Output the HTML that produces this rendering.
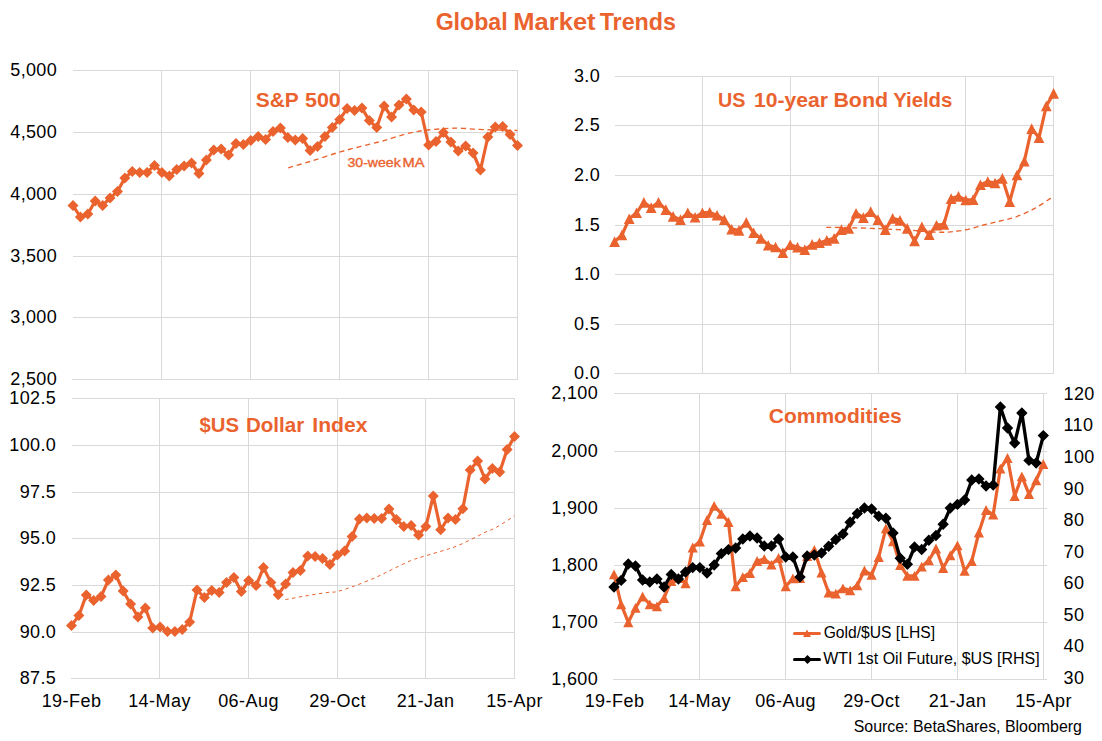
<!DOCTYPE html><html><head><meta charset="utf-8"><title>Global Market Trends</title>
<style>html,body{margin:0;padding:0;background:#fff;}svg{display:block;}text{font-family:"Liberation Sans", sans-serif;}</style></head><body>
<svg width="1102" height="741" viewBox="0 0 1102 741">
<rect width="1102" height="741" fill="#fff"/>
<line x1="73" y1="70.5" x2="518" y2="70.5" stroke="#D9D9D9" stroke-width="1"/>
<text x="57.1" y="76.4" font-size="18" text-anchor="end" font-weight="normal" fill="#000" letter-spacing="0.35">5,000</text>
<line x1="73" y1="132.5" x2="518" y2="132.5" stroke="#D9D9D9" stroke-width="1"/>
<text x="57.1" y="138.4" font-size="18" text-anchor="end" font-weight="normal" fill="#000" letter-spacing="0.35">4,500</text>
<line x1="73" y1="194.5" x2="518" y2="194.5" stroke="#D9D9D9" stroke-width="1"/>
<text x="57.1" y="200.4" font-size="18" text-anchor="end" font-weight="normal" fill="#000" letter-spacing="0.35">4,000</text>
<line x1="73" y1="256.5" x2="518" y2="256.5" stroke="#D9D9D9" stroke-width="1"/>
<text x="57.1" y="262.4" font-size="18" text-anchor="end" font-weight="normal" fill="#000" letter-spacing="0.35">3,500</text>
<line x1="73" y1="317.5" x2="518" y2="317.5" stroke="#D9D9D9" stroke-width="1"/>
<text x="57.1" y="323.4" font-size="18" text-anchor="end" font-weight="normal" fill="#000" letter-spacing="0.35">3,000</text>
<line x1="72" y1="379.5" x2="518" y2="379.5" stroke="#D9D9D9" stroke-width="1"/>
<text x="57.1" y="385.4" font-size="18" text-anchor="end" font-weight="normal" fill="#000" letter-spacing="0.35">2,500</text>
<line x1="161.5" y1="70" x2="161.5" y2="380" stroke="#D9D9D9" stroke-width="1"/>
<line x1="250.5" y1="70" x2="250.5" y2="380" stroke="#D9D9D9" stroke-width="1"/>
<line x1="339.5" y1="70" x2="339.5" y2="380" stroke="#D9D9D9" stroke-width="1"/>
<line x1="428.5" y1="70" x2="428.5" y2="380" stroke="#D9D9D9" stroke-width="1"/>
<line x1="517.5" y1="70" x2="517.5" y2="380" stroke="#D9D9D9" stroke-width="1"/>
<line x1="615" y1="76.5" x2="1054" y2="76.5" stroke="#D9D9D9" stroke-width="1"/>
<text x="600.0" y="82.4" font-size="18" text-anchor="end" font-weight="normal" fill="#000" letter-spacing="0.35">3.0</text>
<line x1="615" y1="125.5" x2="1054" y2="125.5" stroke="#D9D9D9" stroke-width="1"/>
<text x="600.0" y="131.4" font-size="18" text-anchor="end" font-weight="normal" fill="#000" letter-spacing="0.35">2.5</text>
<line x1="615" y1="175.5" x2="1054" y2="175.5" stroke="#D9D9D9" stroke-width="1"/>
<text x="600.0" y="181.4" font-size="18" text-anchor="end" font-weight="normal" fill="#000" letter-spacing="0.35">2.0</text>
<line x1="615" y1="225.5" x2="1054" y2="225.5" stroke="#D9D9D9" stroke-width="1"/>
<text x="600.0" y="231.4" font-size="18" text-anchor="end" font-weight="normal" fill="#000" letter-spacing="0.35">1.5</text>
<line x1="615" y1="274.5" x2="1054" y2="274.5" stroke="#D9D9D9" stroke-width="1"/>
<text x="600.0" y="280.4" font-size="18" text-anchor="end" font-weight="normal" fill="#000" letter-spacing="0.35">1.0</text>
<line x1="615" y1="324.5" x2="1054" y2="324.5" stroke="#D9D9D9" stroke-width="1"/>
<text x="600.0" y="330.4" font-size="18" text-anchor="end" font-weight="normal" fill="#000" letter-spacing="0.35">0.5</text>
<line x1="614" y1="373.5" x2="1054" y2="373.5" stroke="#D9D9D9" stroke-width="1"/>
<text x="600.0" y="379.4" font-size="18" text-anchor="end" font-weight="normal" fill="#000" letter-spacing="0.35">0.0</text>
<line x1="702.5" y1="76" x2="702.5" y2="374" stroke="#D9D9D9" stroke-width="1"/>
<line x1="790.5" y1="76" x2="790.5" y2="374" stroke="#D9D9D9" stroke-width="1"/>
<line x1="878.5" y1="76" x2="878.5" y2="374" stroke="#D9D9D9" stroke-width="1"/>
<line x1="965.5" y1="76" x2="965.5" y2="374" stroke="#D9D9D9" stroke-width="1"/>
<line x1="1053.5" y1="76" x2="1053.5" y2="374" stroke="#D9D9D9" stroke-width="1"/>
<line x1="72" y1="398.5" x2="515" y2="398.5" stroke="#D9D9D9" stroke-width="1"/>
<text x="56.1" y="404.4" font-size="18" text-anchor="end" font-weight="normal" fill="#000" letter-spacing="0.35">102.5</text>
<line x1="72" y1="445.5" x2="515" y2="445.5" stroke="#D9D9D9" stroke-width="1"/>
<text x="56.1" y="451.4" font-size="18" text-anchor="end" font-weight="normal" fill="#000" letter-spacing="0.35">100.0</text>
<line x1="72" y1="492.5" x2="515" y2="492.5" stroke="#D9D9D9" stroke-width="1"/>
<text x="56.1" y="498.4" font-size="18" text-anchor="end" font-weight="normal" fill="#000" letter-spacing="0.35">97.5</text>
<line x1="72" y1="538.5" x2="515" y2="538.5" stroke="#D9D9D9" stroke-width="1"/>
<text x="56.1" y="544.4" font-size="18" text-anchor="end" font-weight="normal" fill="#000" letter-spacing="0.35">95.0</text>
<line x1="72" y1="585.5" x2="515" y2="585.5" stroke="#D9D9D9" stroke-width="1"/>
<text x="56.1" y="591.4" font-size="18" text-anchor="end" font-weight="normal" fill="#000" letter-spacing="0.35">92.5</text>
<line x1="72" y1="632.5" x2="515" y2="632.5" stroke="#D9D9D9" stroke-width="1"/>
<text x="56.1" y="638.4" font-size="18" text-anchor="end" font-weight="normal" fill="#000" letter-spacing="0.35">90.0</text>
<line x1="71" y1="678.5" x2="515" y2="678.5" stroke="#D9D9D9" stroke-width="1"/>
<text x="56.1" y="684.4" font-size="18" text-anchor="end" font-weight="normal" fill="#000" letter-spacing="0.35">87.5</text>
<line x1="159.5" y1="398" x2="159.5" y2="679" stroke="#D9D9D9" stroke-width="1"/>
<line x1="248.5" y1="398" x2="248.5" y2="679" stroke="#D9D9D9" stroke-width="1"/>
<line x1="337.5" y1="398" x2="337.5" y2="679" stroke="#D9D9D9" stroke-width="1"/>
<line x1="425.5" y1="398" x2="425.5" y2="679" stroke="#D9D9D9" stroke-width="1"/>
<line x1="514.5" y1="398" x2="514.5" y2="679" stroke="#D9D9D9" stroke-width="1"/>
<text x="71.5" y="706.6" font-size="18" text-anchor="middle" font-weight="normal" fill="#000" letter-spacing="0.45">19-Feb</text>
<text x="159.5" y="706.6" font-size="18" text-anchor="middle" font-weight="normal" fill="#000" letter-spacing="0.45">14-May</text>
<text x="248.5" y="706.6" font-size="18" text-anchor="middle" font-weight="normal" fill="#000" letter-spacing="0.45">06-Aug</text>
<text x="337.5" y="706.6" font-size="18" text-anchor="middle" font-weight="normal" fill="#000" letter-spacing="0.45">29-Oct</text>
<text x="425.5" y="706.6" font-size="18" text-anchor="middle" font-weight="normal" fill="#000" letter-spacing="0.45">21-Jan</text>
<text x="514.5" y="706.6" font-size="18" text-anchor="middle" font-weight="normal" fill="#000" letter-spacing="0.45">15-Apr</text>
<line x1="614" y1="393.5" x2="1047" y2="393.5" stroke="#D9D9D9" stroke-width="1"/>
<text x="598.0" y="398.7" font-size="18" text-anchor="end" font-weight="normal" fill="#000" letter-spacing="0.35">2,100</text>
<line x1="614" y1="451.5" x2="1047" y2="451.5" stroke="#D9D9D9" stroke-width="1"/>
<text x="598.0" y="456.7" font-size="18" text-anchor="end" font-weight="normal" fill="#000" letter-spacing="0.35">2,000</text>
<line x1="614" y1="508.5" x2="1047" y2="508.5" stroke="#D9D9D9" stroke-width="1"/>
<text x="598.0" y="513.7" font-size="18" text-anchor="end" font-weight="normal" fill="#000" letter-spacing="0.35">1,900</text>
<line x1="614" y1="565.5" x2="1047" y2="565.5" stroke="#D9D9D9" stroke-width="1"/>
<text x="598.0" y="570.7" font-size="18" text-anchor="end" font-weight="normal" fill="#000" letter-spacing="0.35">1,800</text>
<line x1="614" y1="622.5" x2="1047" y2="622.5" stroke="#D9D9D9" stroke-width="1"/>
<text x="598.0" y="627.7" font-size="18" text-anchor="end" font-weight="normal" fill="#000" letter-spacing="0.35">1,700</text>
<line x1="613" y1="679.5" x2="1047" y2="679.5" stroke="#D9D9D9" stroke-width="1"/>
<text x="598.0" y="684.7" font-size="18" text-anchor="end" font-weight="normal" fill="#000" letter-spacing="0.35">1,600</text>
<text x="1063.6" y="399.9" font-size="18" text-anchor="start" font-weight="normal" fill="#000" letter-spacing="0.35">120</text>
<text x="1063.6" y="431.46999999999997" font-size="18" text-anchor="start" font-weight="normal" fill="#000" letter-spacing="0.35">110</text>
<text x="1063.6" y="463.03999999999996" font-size="18" text-anchor="start" font-weight="normal" fill="#000" letter-spacing="0.35">100</text>
<text x="1063.6" y="494.61" font-size="18" text-anchor="start" font-weight="normal" fill="#000" letter-spacing="0.35">90</text>
<text x="1063.6" y="526.18" font-size="18" text-anchor="start" font-weight="normal" fill="#000" letter-spacing="0.35">80</text>
<text x="1063.6" y="557.75" font-size="18" text-anchor="start" font-weight="normal" fill="#000" letter-spacing="0.35">70</text>
<text x="1063.6" y="589.3199999999999" font-size="18" text-anchor="start" font-weight="normal" fill="#000" letter-spacing="0.35">60</text>
<text x="1063.6" y="620.89" font-size="18" text-anchor="start" font-weight="normal" fill="#000" letter-spacing="0.35">50</text>
<text x="1063.6" y="652.46" font-size="18" text-anchor="start" font-weight="normal" fill="#000" letter-spacing="0.35">40</text>
<text x="1063.6" y="684.03" font-size="18" text-anchor="start" font-weight="normal" fill="#000" letter-spacing="0.35">30</text>
<line x1="699.5" y1="393" x2="699.5" y2="680" stroke="#D9D9D9" stroke-width="1"/>
<line x1="785.5" y1="393" x2="785.5" y2="680" stroke="#D9D9D9" stroke-width="1"/>
<line x1="871.5" y1="393" x2="871.5" y2="680" stroke="#D9D9D9" stroke-width="1"/>
<line x1="957.5" y1="393" x2="957.5" y2="680" stroke="#D9D9D9" stroke-width="1"/>
<line x1="1043.5" y1="393" x2="1043.5" y2="680" stroke="#D9D9D9" stroke-width="1"/>
<text x="614.5" y="706.6" font-size="18" text-anchor="middle" font-weight="normal" fill="#000" letter-spacing="0.45">19-Feb</text>
<text x="699.5" y="706.6" font-size="18" text-anchor="middle" font-weight="normal" fill="#000" letter-spacing="0.45">14-May</text>
<text x="785.5" y="706.6" font-size="18" text-anchor="middle" font-weight="normal" fill="#000" letter-spacing="0.45">06-Aug</text>
<text x="871.5" y="706.6" font-size="18" text-anchor="middle" font-weight="normal" fill="#000" letter-spacing="0.45">29-Oct</text>
<text x="957.5" y="706.6" font-size="18" text-anchor="middle" font-weight="normal" fill="#000" letter-spacing="0.45">21-Jan</text>
<text x="1043.5" y="706.6" font-size="18" text-anchor="middle" font-weight="normal" fill="#000" letter-spacing="0.45">15-Apr</text>
<path d="M288.2,167.8 C291.83,166.75 301.77,164.02 310.00,161.50 C318.23,158.98 329.27,155.18 337.60,152.70 C345.93,150.22 352.93,148.43 360.00,146.60 C367.07,144.77 374.55,143.15 380.00,141.70 C385.45,140.25 388.47,139.17 392.70,137.90 C396.93,136.63 401.17,135.20 405.40,134.10 C409.63,133.00 413.65,132.05 418.10,131.30 C422.55,130.55 426.80,130.10 432.10,129.60 C437.40,129.10 444.82,128.52 449.90,128.30 C454.98,128.08 458.37,128.15 462.60,128.30 C466.83,128.45 470.00,128.92 475.30,129.20 C480.60,129.48 487.37,129.78 494.40,130.00 C501.43,130.22 513.65,130.42 517.50,130.50" fill="none" stroke="#EA632E" stroke-width="1.35" stroke-dasharray="5.1,3.8"/>
<path d="M826.2,227.3 C830.33,227.37 842.53,227.48 851.00,227.70 C859.47,227.92 869.83,228.32 877.00,228.60 C884.17,228.88 888.07,229.10 894.00,229.40 C899.93,229.70 905.38,229.93 912.60,230.40 C919.82,230.87 930.90,231.97 937.30,232.20 C943.70,232.43 946.12,232.22 951.00,231.80 C955.88,231.38 961.17,230.83 966.60,229.70 C972.03,228.57 978.03,226.45 983.60,225.00 C989.17,223.55 994.57,222.37 1000.00,221.00 C1005.43,219.63 1010.40,218.90 1016.20,216.80 C1022.00,214.70 1028.57,211.83 1034.80,208.40 C1041.03,204.97 1050.47,198.23 1053.60,196.20" fill="none" stroke="#EA632E" stroke-width="1.35" stroke-dasharray="5.1,3.6"/>
<path d="M285.4,599.6 C288.67,599.00 297.90,597.20 305.00,596.00 C312.10,594.80 322.67,593.13 328.00,592.40 C333.33,591.67 332.60,592.67 337.00,591.60 C341.40,590.53 347.90,588.38 354.40,586.00 C360.90,583.62 369.57,580.13 376.00,577.30 C382.43,574.47 387.17,571.80 393.00,569.00 C398.83,566.20 405.67,562.67 411.00,560.50 C416.33,558.33 419.33,557.75 425.00,556.00 C430.67,554.25 439.67,551.67 445.00,550.00 C450.33,548.33 452.50,547.83 457.00,546.00 C461.50,544.17 467.33,541.27 472.00,539.00 C476.67,536.73 481.00,534.32 485.00,532.40 C489.00,530.48 491.08,530.23 496.00,527.50 C500.92,524.77 511.42,517.92 514.50,516.00" fill="none" stroke="#EA632E" stroke-width="1.0" stroke-dasharray="3.4,3.4"/>
<polyline points="73.00,205.60 80.41,217.00 87.82,214.00 95.22,201.00 102.63,205.40 110.04,198.00 117.45,191.60 124.86,178.00 132.27,171.40 139.68,172.40 147.08,172.40 154.49,165.40 161.90,172.40 169.31,176.00 176.72,169.40 184.12,166.00 191.53,163.00 198.94,173.60 206.35,160.00 213.76,150.00 221.17,149.00 228.57,155.00 235.98,143.40 243.39,144.60 250.80,140.40 258.21,136.60 265.62,139.40 273.02,131.40 280.43,128.00 287.84,137.40 295.25,140.00 302.66,138.60 310.07,150.60 317.48,146.60 324.88,136.40 332.29,127.40 339.70,119.40 347.11,108.60 354.52,110.60 361.93,108.00 369.33,120.60 376.74,127.60 384.15,106.00 391.56,117.00 398.97,105.00 406.38,99.00 413.78,110.00 421.19,112.00 428.60,145.00 436.01,141.40 443.42,132.40 450.82,142.00 458.23,151.00 465.64,146.00 473.05,153.00 480.46,170.00 487.87,137.00 495.27,127.00 502.68,126.50 510.09,134.60 517.50,145.40" fill="none" stroke="#EA632E" stroke-width="3.2" stroke-linejoin="round"/>
<path d="M73.00,200.10l5.5,5.5l-5.5,5.5l-5.5,-5.5zM80.41,211.50l5.5,5.5l-5.5,5.5l-5.5,-5.5zM87.82,208.50l5.5,5.5l-5.5,5.5l-5.5,-5.5zM95.22,195.50l5.5,5.5l-5.5,5.5l-5.5,-5.5zM102.63,199.90l5.5,5.5l-5.5,5.5l-5.5,-5.5zM110.04,192.50l5.5,5.5l-5.5,5.5l-5.5,-5.5zM117.45,186.10l5.5,5.5l-5.5,5.5l-5.5,-5.5zM124.86,172.50l5.5,5.5l-5.5,5.5l-5.5,-5.5zM132.27,165.90l5.5,5.5l-5.5,5.5l-5.5,-5.5zM139.68,166.90l5.5,5.5l-5.5,5.5l-5.5,-5.5zM147.08,166.90l5.5,5.5l-5.5,5.5l-5.5,-5.5zM154.49,159.90l5.5,5.5l-5.5,5.5l-5.5,-5.5zM161.90,166.90l5.5,5.5l-5.5,5.5l-5.5,-5.5zM169.31,170.50l5.5,5.5l-5.5,5.5l-5.5,-5.5zM176.72,163.90l5.5,5.5l-5.5,5.5l-5.5,-5.5zM184.12,160.50l5.5,5.5l-5.5,5.5l-5.5,-5.5zM191.53,157.50l5.5,5.5l-5.5,5.5l-5.5,-5.5zM198.94,168.10l5.5,5.5l-5.5,5.5l-5.5,-5.5zM206.35,154.50l5.5,5.5l-5.5,5.5l-5.5,-5.5zM213.76,144.50l5.5,5.5l-5.5,5.5l-5.5,-5.5zM221.17,143.50l5.5,5.5l-5.5,5.5l-5.5,-5.5zM228.57,149.50l5.5,5.5l-5.5,5.5l-5.5,-5.5zM235.98,137.90l5.5,5.5l-5.5,5.5l-5.5,-5.5zM243.39,139.10l5.5,5.5l-5.5,5.5l-5.5,-5.5zM250.80,134.90l5.5,5.5l-5.5,5.5l-5.5,-5.5zM258.21,131.10l5.5,5.5l-5.5,5.5l-5.5,-5.5zM265.62,133.90l5.5,5.5l-5.5,5.5l-5.5,-5.5zM273.02,125.90l5.5,5.5l-5.5,5.5l-5.5,-5.5zM280.43,122.50l5.5,5.5l-5.5,5.5l-5.5,-5.5zM287.84,131.90l5.5,5.5l-5.5,5.5l-5.5,-5.5zM295.25,134.50l5.5,5.5l-5.5,5.5l-5.5,-5.5zM302.66,133.10l5.5,5.5l-5.5,5.5l-5.5,-5.5zM310.07,145.10l5.5,5.5l-5.5,5.5l-5.5,-5.5zM317.48,141.10l5.5,5.5l-5.5,5.5l-5.5,-5.5zM324.88,130.90l5.5,5.5l-5.5,5.5l-5.5,-5.5zM332.29,121.90l5.5,5.5l-5.5,5.5l-5.5,-5.5zM339.70,113.90l5.5,5.5l-5.5,5.5l-5.5,-5.5zM347.11,103.10l5.5,5.5l-5.5,5.5l-5.5,-5.5zM354.52,105.10l5.5,5.5l-5.5,5.5l-5.5,-5.5zM361.93,102.50l5.5,5.5l-5.5,5.5l-5.5,-5.5zM369.33,115.10l5.5,5.5l-5.5,5.5l-5.5,-5.5zM376.74,122.10l5.5,5.5l-5.5,5.5l-5.5,-5.5zM384.15,100.50l5.5,5.5l-5.5,5.5l-5.5,-5.5zM391.56,111.50l5.5,5.5l-5.5,5.5l-5.5,-5.5zM398.97,99.50l5.5,5.5l-5.5,5.5l-5.5,-5.5zM406.38,93.50l5.5,5.5l-5.5,5.5l-5.5,-5.5zM413.78,104.50l5.5,5.5l-5.5,5.5l-5.5,-5.5zM421.19,106.50l5.5,5.5l-5.5,5.5l-5.5,-5.5zM428.60,139.50l5.5,5.5l-5.5,5.5l-5.5,-5.5zM436.01,135.90l5.5,5.5l-5.5,5.5l-5.5,-5.5zM443.42,126.90l5.5,5.5l-5.5,5.5l-5.5,-5.5zM450.82,136.50l5.5,5.5l-5.5,5.5l-5.5,-5.5zM458.23,145.50l5.5,5.5l-5.5,5.5l-5.5,-5.5zM465.64,140.50l5.5,5.5l-5.5,5.5l-5.5,-5.5zM473.05,147.50l5.5,5.5l-5.5,5.5l-5.5,-5.5zM480.46,164.50l5.5,5.5l-5.5,5.5l-5.5,-5.5zM487.87,131.50l5.5,5.5l-5.5,5.5l-5.5,-5.5zM495.27,121.50l5.5,5.5l-5.5,5.5l-5.5,-5.5zM502.68,121.00l5.5,5.5l-5.5,5.5l-5.5,-5.5zM510.09,129.10l5.5,5.5l-5.5,5.5l-5.5,-5.5zM517.50,139.90l5.5,5.5l-5.5,5.5l-5.5,-5.5z" fill="#EA632E"/>
<polyline points="614.60,241.60 621.92,235.00 629.23,218.80 636.55,212.80 643.87,202.40 651.18,207.60 658.50,202.40 665.82,209.60 673.13,216.40 680.45,219.60 687.77,212.80 695.08,217.20 702.40,212.80 709.72,212.40 717.03,215.20 724.35,219.60 731.67,229.20 738.98,230.40 746.30,222.40 753.62,232.80 760.93,238.40 768.25,245.20 775.57,247.00 782.88,252.80 790.20,244.80 797.52,247.20 804.83,249.60 812.15,244.40 819.47,242.80 826.78,240.40 834.10,238.40 841.42,229.60 848.73,228.40 856.05,213.20 863.37,217.60 870.68,211.60 878.00,219.60 885.32,229.60 892.63,218.40 899.95,220.40 907.27,228.40 914.58,241.00 921.90,226.80 929.22,234.80 936.53,225.20 943.85,224.40 951.17,198.60 958.48,196.40 965.80,200.00 973.12,199.60 980.43,184.80 987.75,181.60 995.07,183.00 1002.38,178.40 1009.70,201.60 1017.02,175.00 1024.33,161.20 1031.65,128.60 1038.97,137.80 1046.28,106.00 1053.60,93.40" fill="none" stroke="#EA632E" stroke-width="3.2" stroke-linejoin="round"/>
<path d="M614.60,236.30l5.4,10.6h-10.8zM621.92,229.70l5.4,10.6h-10.8zM629.23,213.50l5.4,10.6h-10.8zM636.55,207.50l5.4,10.6h-10.8zM643.87,197.10l5.4,10.6h-10.8zM651.18,202.30l5.4,10.6h-10.8zM658.50,197.10l5.4,10.6h-10.8zM665.82,204.30l5.4,10.6h-10.8zM673.13,211.10l5.4,10.6h-10.8zM680.45,214.30l5.4,10.6h-10.8zM687.77,207.50l5.4,10.6h-10.8zM695.08,211.90l5.4,10.6h-10.8zM702.40,207.50l5.4,10.6h-10.8zM709.72,207.10l5.4,10.6h-10.8zM717.03,209.90l5.4,10.6h-10.8zM724.35,214.30l5.4,10.6h-10.8zM731.67,223.90l5.4,10.6h-10.8zM738.98,225.10l5.4,10.6h-10.8zM746.30,217.10l5.4,10.6h-10.8zM753.62,227.50l5.4,10.6h-10.8zM760.93,233.10l5.4,10.6h-10.8zM768.25,239.90l5.4,10.6h-10.8zM775.57,241.70l5.4,10.6h-10.8zM782.88,247.50l5.4,10.6h-10.8zM790.20,239.50l5.4,10.6h-10.8zM797.52,241.90l5.4,10.6h-10.8zM804.83,244.30l5.4,10.6h-10.8zM812.15,239.10l5.4,10.6h-10.8zM819.47,237.50l5.4,10.6h-10.8zM826.78,235.10l5.4,10.6h-10.8zM834.10,233.10l5.4,10.6h-10.8zM841.42,224.30l5.4,10.6h-10.8zM848.73,223.10l5.4,10.6h-10.8zM856.05,207.90l5.4,10.6h-10.8zM863.37,212.30l5.4,10.6h-10.8zM870.68,206.30l5.4,10.6h-10.8zM878.00,214.30l5.4,10.6h-10.8zM885.32,224.30l5.4,10.6h-10.8zM892.63,213.10l5.4,10.6h-10.8zM899.95,215.10l5.4,10.6h-10.8zM907.27,223.10l5.4,10.6h-10.8zM914.58,235.70l5.4,10.6h-10.8zM921.90,221.50l5.4,10.6h-10.8zM929.22,229.50l5.4,10.6h-10.8zM936.53,219.90l5.4,10.6h-10.8zM943.85,219.10l5.4,10.6h-10.8zM951.17,193.30l5.4,10.6h-10.8zM958.48,191.10l5.4,10.6h-10.8zM965.80,194.70l5.4,10.6h-10.8zM973.12,194.30l5.4,10.6h-10.8zM980.43,179.50l5.4,10.6h-10.8zM987.75,176.30l5.4,10.6h-10.8zM995.07,177.70l5.4,10.6h-10.8zM1002.38,173.10l5.4,10.6h-10.8zM1009.70,196.30l5.4,10.6h-10.8zM1017.02,169.70l5.4,10.6h-10.8zM1024.33,155.90l5.4,10.6h-10.8zM1031.65,123.30l5.4,10.6h-10.8zM1038.97,132.50l5.4,10.6h-10.8zM1046.28,100.70l5.4,10.6h-10.8zM1053.60,88.10l5.4,10.6h-10.8z" fill="#EA632E"/>
<polyline points="71.50,625.40 78.88,615.60 86.27,595.00 93.65,600.60 101.03,596.60 108.42,580.00 115.80,575.00 123.18,591.00 130.57,604.00 137.95,617.00 145.33,608.00 152.72,628.00 160.10,627.00 167.48,631.40 174.87,631.40 182.25,629.60 189.63,622.00 197.02,590.00 204.40,597.60 211.78,590.40 219.17,592.40 226.55,582.40 233.93,577.60 241.32,591.60 248.70,580.60 256.08,585.60 263.47,567.60 270.85,582.40 278.23,594.70 285.62,584.00 293.00,572.40 300.38,570.40 307.77,556.00 315.15,556.40 322.53,558.60 329.92,564.40 337.30,555.00 344.68,551.00 352.07,536.40 359.45,519.00 366.83,518.00 374.22,518.40 381.60,518.40 388.98,509.00 396.37,519.60 403.75,526.40 411.13,525.60 418.52,535.00 425.90,526.40 433.28,496.00 440.67,529.80 448.05,518.00 455.43,519.60 462.82,508.70 470.20,470.00 477.58,461.00 484.97,479.00 492.35,468.60 499.73,472.00 507.12,449.60 514.50,436.40" fill="none" stroke="#EA632E" stroke-width="3.2" stroke-linejoin="round"/>
<path d="M71.50,619.90l5.5,5.5l-5.5,5.5l-5.5,-5.5zM78.88,610.10l5.5,5.5l-5.5,5.5l-5.5,-5.5zM86.27,589.50l5.5,5.5l-5.5,5.5l-5.5,-5.5zM93.65,595.10l5.5,5.5l-5.5,5.5l-5.5,-5.5zM101.03,591.10l5.5,5.5l-5.5,5.5l-5.5,-5.5zM108.42,574.50l5.5,5.5l-5.5,5.5l-5.5,-5.5zM115.80,569.50l5.5,5.5l-5.5,5.5l-5.5,-5.5zM123.18,585.50l5.5,5.5l-5.5,5.5l-5.5,-5.5zM130.57,598.50l5.5,5.5l-5.5,5.5l-5.5,-5.5zM137.95,611.50l5.5,5.5l-5.5,5.5l-5.5,-5.5zM145.33,602.50l5.5,5.5l-5.5,5.5l-5.5,-5.5zM152.72,622.50l5.5,5.5l-5.5,5.5l-5.5,-5.5zM160.10,621.50l5.5,5.5l-5.5,5.5l-5.5,-5.5zM167.48,625.90l5.5,5.5l-5.5,5.5l-5.5,-5.5zM174.87,625.90l5.5,5.5l-5.5,5.5l-5.5,-5.5zM182.25,624.10l5.5,5.5l-5.5,5.5l-5.5,-5.5zM189.63,616.50l5.5,5.5l-5.5,5.5l-5.5,-5.5zM197.02,584.50l5.5,5.5l-5.5,5.5l-5.5,-5.5zM204.40,592.10l5.5,5.5l-5.5,5.5l-5.5,-5.5zM211.78,584.90l5.5,5.5l-5.5,5.5l-5.5,-5.5zM219.17,586.90l5.5,5.5l-5.5,5.5l-5.5,-5.5zM226.55,576.90l5.5,5.5l-5.5,5.5l-5.5,-5.5zM233.93,572.10l5.5,5.5l-5.5,5.5l-5.5,-5.5zM241.32,586.10l5.5,5.5l-5.5,5.5l-5.5,-5.5zM248.70,575.10l5.5,5.5l-5.5,5.5l-5.5,-5.5zM256.08,580.10l5.5,5.5l-5.5,5.5l-5.5,-5.5zM263.47,562.10l5.5,5.5l-5.5,5.5l-5.5,-5.5zM270.85,576.90l5.5,5.5l-5.5,5.5l-5.5,-5.5zM278.23,589.20l5.5,5.5l-5.5,5.5l-5.5,-5.5zM285.62,578.50l5.5,5.5l-5.5,5.5l-5.5,-5.5zM293.00,566.90l5.5,5.5l-5.5,5.5l-5.5,-5.5zM300.38,564.90l5.5,5.5l-5.5,5.5l-5.5,-5.5zM307.77,550.50l5.5,5.5l-5.5,5.5l-5.5,-5.5zM315.15,550.90l5.5,5.5l-5.5,5.5l-5.5,-5.5zM322.53,553.10l5.5,5.5l-5.5,5.5l-5.5,-5.5zM329.92,558.90l5.5,5.5l-5.5,5.5l-5.5,-5.5zM337.30,549.50l5.5,5.5l-5.5,5.5l-5.5,-5.5zM344.68,545.50l5.5,5.5l-5.5,5.5l-5.5,-5.5zM352.07,530.90l5.5,5.5l-5.5,5.5l-5.5,-5.5zM359.45,513.50l5.5,5.5l-5.5,5.5l-5.5,-5.5zM366.83,512.50l5.5,5.5l-5.5,5.5l-5.5,-5.5zM374.22,512.90l5.5,5.5l-5.5,5.5l-5.5,-5.5zM381.60,512.90l5.5,5.5l-5.5,5.5l-5.5,-5.5zM388.98,503.50l5.5,5.5l-5.5,5.5l-5.5,-5.5zM396.37,514.10l5.5,5.5l-5.5,5.5l-5.5,-5.5zM403.75,520.90l5.5,5.5l-5.5,5.5l-5.5,-5.5zM411.13,520.10l5.5,5.5l-5.5,5.5l-5.5,-5.5zM418.52,529.50l5.5,5.5l-5.5,5.5l-5.5,-5.5zM425.90,520.90l5.5,5.5l-5.5,5.5l-5.5,-5.5zM433.28,490.50l5.5,5.5l-5.5,5.5l-5.5,-5.5zM440.67,524.30l5.5,5.5l-5.5,5.5l-5.5,-5.5zM448.05,512.50l5.5,5.5l-5.5,5.5l-5.5,-5.5zM455.43,514.10l5.5,5.5l-5.5,5.5l-5.5,-5.5zM462.82,503.20l5.5,5.5l-5.5,5.5l-5.5,-5.5zM470.20,464.50l5.5,5.5l-5.5,5.5l-5.5,-5.5zM477.58,455.50l5.5,5.5l-5.5,5.5l-5.5,-5.5zM484.97,473.50l5.5,5.5l-5.5,5.5l-5.5,-5.5zM492.35,463.10l5.5,5.5l-5.5,5.5l-5.5,-5.5zM499.73,466.50l5.5,5.5l-5.5,5.5l-5.5,-5.5zM507.12,444.10l5.5,5.5l-5.5,5.5l-5.5,-5.5zM514.50,430.90l5.5,5.5l-5.5,5.5l-5.5,-5.5z" fill="#EA632E"/>
<polyline points="614.00,574.40 621.15,604.40 628.31,622.40 635.47,607.80 642.62,596.50 649.77,604.40 656.93,606.40 664.09,598.00 671.24,581.00 678.39,578.00 685.55,583.40 692.71,547.50 699.86,541.60 707.01,520.00 714.17,505.80 721.33,513.80 728.48,522.00 735.63,586.40 742.79,577.20 749.94,573.00 757.10,561.00 764.25,559.00 771.41,564.60 778.57,557.80 785.72,586.40 792.88,578.40 800.03,578.00 807.18,556.00 814.34,550.00 821.50,572.50 828.65,592.70 835.80,593.70 842.96,588.30 850.12,590.30 857.27,585.30 864.42,570.50 871.58,574.90 878.73,557.00 885.89,528.30 893.04,541.30 900.20,565.00 907.36,575.90 914.51,575.90 921.66,566.70 928.82,560.30 935.97,548.50 943.13,568.00 950.28,555.30 957.44,545.30 964.60,570.90 971.75,561.10 978.90,532.50 986.06,510.00 993.21,514.50 1000.37,468.60 1007.52,458.00 1014.68,496.00 1021.84,476.40 1028.99,494.20 1036.14,480.40 1043.30,464.00" fill="none" stroke="#EA632E" stroke-width="3.2" stroke-linejoin="round"/>
<path d="M614.00,569.50l5.1,9.8h-10.2zM621.15,599.50l5.1,9.8h-10.2zM628.31,617.50l5.1,9.8h-10.2zM635.47,602.90l5.1,9.8h-10.2zM642.62,591.60l5.1,9.8h-10.2zM649.77,599.50l5.1,9.8h-10.2zM656.93,601.50l5.1,9.8h-10.2zM664.09,593.10l5.1,9.8h-10.2zM671.24,576.10l5.1,9.8h-10.2zM678.39,573.10l5.1,9.8h-10.2zM685.55,578.50l5.1,9.8h-10.2zM692.71,542.60l5.1,9.8h-10.2zM699.86,536.70l5.1,9.8h-10.2zM707.01,515.10l5.1,9.8h-10.2zM714.17,500.90l5.1,9.8h-10.2zM721.33,508.90l5.1,9.8h-10.2zM728.48,517.10l5.1,9.8h-10.2zM735.63,581.50l5.1,9.8h-10.2zM742.79,572.30l5.1,9.8h-10.2zM749.94,568.10l5.1,9.8h-10.2zM757.10,556.10l5.1,9.8h-10.2zM764.25,554.10l5.1,9.8h-10.2zM771.41,559.70l5.1,9.8h-10.2zM778.57,552.90l5.1,9.8h-10.2zM785.72,581.50l5.1,9.8h-10.2zM792.88,573.50l5.1,9.8h-10.2zM800.03,573.10l5.1,9.8h-10.2zM807.18,551.10l5.1,9.8h-10.2zM814.34,545.10l5.1,9.8h-10.2zM821.50,567.60l5.1,9.8h-10.2zM828.65,587.80l5.1,9.8h-10.2zM835.80,588.80l5.1,9.8h-10.2zM842.96,583.40l5.1,9.8h-10.2zM850.12,585.40l5.1,9.8h-10.2zM857.27,580.40l5.1,9.8h-10.2zM864.42,565.60l5.1,9.8h-10.2zM871.58,570.00l5.1,9.8h-10.2zM878.73,552.10l5.1,9.8h-10.2zM885.89,523.40l5.1,9.8h-10.2zM893.04,536.40l5.1,9.8h-10.2zM900.20,560.10l5.1,9.8h-10.2zM907.36,571.00l5.1,9.8h-10.2zM914.51,571.00l5.1,9.8h-10.2zM921.66,561.80l5.1,9.8h-10.2zM928.82,555.40l5.1,9.8h-10.2zM935.97,543.60l5.1,9.8h-10.2zM943.13,563.10l5.1,9.8h-10.2zM950.28,550.40l5.1,9.8h-10.2zM957.44,540.40l5.1,9.8h-10.2zM964.60,566.00l5.1,9.8h-10.2zM971.75,556.20l5.1,9.8h-10.2zM978.90,527.60l5.1,9.8h-10.2zM986.06,505.10l5.1,9.8h-10.2zM993.21,509.60l5.1,9.8h-10.2zM1000.37,463.70l5.1,9.8h-10.2zM1007.52,453.10l5.1,9.8h-10.2zM1014.68,491.10l5.1,9.8h-10.2zM1021.84,471.50l5.1,9.8h-10.2zM1028.99,489.30l5.1,9.8h-10.2zM1036.14,475.50l5.1,9.8h-10.2zM1043.30,459.10l5.1,9.8h-10.2z" fill="#EA632E"/>
<polyline points="614.00,587.00 621.15,580.40 628.31,564.00 635.47,566.00 642.62,580.00 649.77,582.00 656.93,579.00 664.09,587.00 671.24,574.40 678.39,579.00 685.55,572.00 692.71,567.60 699.86,567.60 707.01,573.00 714.17,565.00 721.33,553.60 728.48,549.60 735.63,548.00 742.79,539.00 749.94,536.00 757.10,538.00 764.25,546.00 771.41,546.00 778.57,539.00 785.72,557.00 792.88,557.00 800.03,577.00 807.18,556.00 814.34,555.00 821.50,553.00 828.65,546.30 835.80,539.50 842.96,534.00 850.12,522.30 857.27,513.50 864.42,508.00 871.58,509.00 878.73,516.30 885.89,518.30 893.04,533.00 900.20,558.30 907.36,564.30 914.51,547.00 921.66,549.50 928.82,540.30 935.97,535.50 943.13,524.30 950.28,508.00 957.44,504.40 964.60,500.00 971.75,480.00 978.90,479.00 986.06,486.00 993.21,485.00 1000.37,407.00 1007.52,428.00 1014.68,443.00 1021.84,413.00 1028.99,460.40 1036.14,463.00 1043.30,435.60" fill="none" stroke="#000" stroke-width="3.3" stroke-linejoin="round"/>
<path d="M614.00,581.30l5.7,5.7l-5.7,5.7l-5.7,-5.7zM621.15,574.70l5.7,5.7l-5.7,5.7l-5.7,-5.7zM628.31,558.30l5.7,5.7l-5.7,5.7l-5.7,-5.7zM635.47,560.30l5.7,5.7l-5.7,5.7l-5.7,-5.7zM642.62,574.30l5.7,5.7l-5.7,5.7l-5.7,-5.7zM649.77,576.30l5.7,5.7l-5.7,5.7l-5.7,-5.7zM656.93,573.30l5.7,5.7l-5.7,5.7l-5.7,-5.7zM664.09,581.30l5.7,5.7l-5.7,5.7l-5.7,-5.7zM671.24,568.70l5.7,5.7l-5.7,5.7l-5.7,-5.7zM678.39,573.30l5.7,5.7l-5.7,5.7l-5.7,-5.7zM685.55,566.30l5.7,5.7l-5.7,5.7l-5.7,-5.7zM692.71,561.90l5.7,5.7l-5.7,5.7l-5.7,-5.7zM699.86,561.90l5.7,5.7l-5.7,5.7l-5.7,-5.7zM707.01,567.30l5.7,5.7l-5.7,5.7l-5.7,-5.7zM714.17,559.30l5.7,5.7l-5.7,5.7l-5.7,-5.7zM721.33,547.90l5.7,5.7l-5.7,5.7l-5.7,-5.7zM728.48,543.90l5.7,5.7l-5.7,5.7l-5.7,-5.7zM735.63,542.30l5.7,5.7l-5.7,5.7l-5.7,-5.7zM742.79,533.30l5.7,5.7l-5.7,5.7l-5.7,-5.7zM749.94,530.30l5.7,5.7l-5.7,5.7l-5.7,-5.7zM757.10,532.30l5.7,5.7l-5.7,5.7l-5.7,-5.7zM764.25,540.30l5.7,5.7l-5.7,5.7l-5.7,-5.7zM771.41,540.30l5.7,5.7l-5.7,5.7l-5.7,-5.7zM778.57,533.30l5.7,5.7l-5.7,5.7l-5.7,-5.7zM785.72,551.30l5.7,5.7l-5.7,5.7l-5.7,-5.7zM792.88,551.30l5.7,5.7l-5.7,5.7l-5.7,-5.7zM800.03,571.30l5.7,5.7l-5.7,5.7l-5.7,-5.7zM807.18,550.30l5.7,5.7l-5.7,5.7l-5.7,-5.7zM814.34,549.30l5.7,5.7l-5.7,5.7l-5.7,-5.7zM821.50,547.30l5.7,5.7l-5.7,5.7l-5.7,-5.7zM828.65,540.60l5.7,5.7l-5.7,5.7l-5.7,-5.7zM835.80,533.80l5.7,5.7l-5.7,5.7l-5.7,-5.7zM842.96,528.30l5.7,5.7l-5.7,5.7l-5.7,-5.7zM850.12,516.60l5.7,5.7l-5.7,5.7l-5.7,-5.7zM857.27,507.80l5.7,5.7l-5.7,5.7l-5.7,-5.7zM864.42,502.30l5.7,5.7l-5.7,5.7l-5.7,-5.7zM871.58,503.30l5.7,5.7l-5.7,5.7l-5.7,-5.7zM878.73,510.60l5.7,5.7l-5.7,5.7l-5.7,-5.7zM885.89,512.60l5.7,5.7l-5.7,5.7l-5.7,-5.7zM893.04,527.30l5.7,5.7l-5.7,5.7l-5.7,-5.7zM900.20,552.60l5.7,5.7l-5.7,5.7l-5.7,-5.7zM907.36,558.60l5.7,5.7l-5.7,5.7l-5.7,-5.7zM914.51,541.30l5.7,5.7l-5.7,5.7l-5.7,-5.7zM921.66,543.80l5.7,5.7l-5.7,5.7l-5.7,-5.7zM928.82,534.60l5.7,5.7l-5.7,5.7l-5.7,-5.7zM935.97,529.80l5.7,5.7l-5.7,5.7l-5.7,-5.7zM943.13,518.60l5.7,5.7l-5.7,5.7l-5.7,-5.7zM950.28,502.30l5.7,5.7l-5.7,5.7l-5.7,-5.7zM957.44,498.70l5.7,5.7l-5.7,5.7l-5.7,-5.7zM964.60,494.30l5.7,5.7l-5.7,5.7l-5.7,-5.7zM971.75,474.30l5.7,5.7l-5.7,5.7l-5.7,-5.7zM978.90,473.30l5.7,5.7l-5.7,5.7l-5.7,-5.7zM986.06,480.30l5.7,5.7l-5.7,5.7l-5.7,-5.7zM993.21,479.30l5.7,5.7l-5.7,5.7l-5.7,-5.7zM1000.37,401.30l5.7,5.7l-5.7,5.7l-5.7,-5.7zM1007.52,422.30l5.7,5.7l-5.7,5.7l-5.7,-5.7zM1014.68,437.30l5.7,5.7l-5.7,5.7l-5.7,-5.7zM1021.84,407.30l5.7,5.7l-5.7,5.7l-5.7,-5.7zM1028.99,454.70l5.7,5.7l-5.7,5.7l-5.7,-5.7zM1036.14,457.30l5.7,5.7l-5.7,5.7l-5.7,-5.7zM1043.30,429.90l5.7,5.7l-5.7,5.7l-5.7,-5.7z" fill="#000"/>
<text x="435.64" y="29.8" font-size="24" text-anchor="start" font-weight="bold" fill="#EA632E" textLength="71.98" lengthAdjust="spacingAndGlyphs">Global</text>
<text x="513.3" y="29.8" font-size="24" text-anchor="start" font-weight="bold" fill="#EA632E" textLength="82.29" lengthAdjust="spacingAndGlyphs">Market</text>
<text x="599.66" y="29.8" font-size="24" text-anchor="start" font-weight="bold" fill="#EA632E" textLength="76.37" lengthAdjust="spacingAndGlyphs">Trends</text>
<text x="255.73" y="106.8" font-size="20.5" text-anchor="start" font-weight="bold" fill="#EA632E" textLength="43.04" lengthAdjust="spacingAndGlyphs">S&amp;P</text>
<text x="305.02" y="106.8" font-size="20.5" text-anchor="start" font-weight="bold" fill="#EA632E" textLength="35.8" lengthAdjust="spacingAndGlyphs">500</text>
<text x="717.9" y="106.5" font-size="20.5" text-anchor="start" font-weight="bold" fill="#EA632E" textLength="27.41" lengthAdjust="spacingAndGlyphs">US</text>
<text x="754.01" y="106.5" font-size="20.5" text-anchor="start" font-weight="bold" fill="#EA632E" textLength="74.01" lengthAdjust="spacingAndGlyphs">10-year</text>
<text x="833.4" y="106.5" font-size="20.5" text-anchor="start" font-weight="bold" fill="#EA632E" textLength="54.64" lengthAdjust="spacingAndGlyphs">Bond</text>
<text x="893.2" y="106.5" font-size="20.5" text-anchor="start" font-weight="bold" fill="#EA632E" textLength="59.18" lengthAdjust="spacingAndGlyphs">Yields</text>
<text x="199.45" y="431.9" font-size="20.5" text-anchor="start" font-weight="bold" fill="#EA632E" textLength="39.53" lengthAdjust="spacingAndGlyphs">$US</text>
<text x="246.05" y="431.9" font-size="20.5" text-anchor="start" font-weight="bold" fill="#EA632E" textLength="58.11" lengthAdjust="spacingAndGlyphs">Dollar</text>
<text x="312.31" y="431.9" font-size="20.5" text-anchor="start" font-weight="bold" fill="#EA632E" textLength="55.09" lengthAdjust="spacingAndGlyphs">Index</text>
<text x="768.73" y="422.9" font-size="20.5" text-anchor="start" font-weight="bold" fill="#EA632E" textLength="133.05" lengthAdjust="spacingAndGlyphs">Commodities</text>
<text x="347.52" y="166.6" font-size="12.2" text-anchor="start" font-weight="normal" fill="#EA632E" textLength="53.17" lengthAdjust="spacingAndGlyphs" stroke="#EA632E" stroke-width="0.35">30-week</text>
<text x="402.5" y="166.6" font-size="12.2" text-anchor="start" font-weight="normal" fill="#EA632E" textLength="21.94" lengthAdjust="spacingAndGlyphs" stroke="#EA632E" stroke-width="0.35">MA</text>
<line x1="794.5" y1="633.5" x2="819.5" y2="633.5" stroke="#EA632E" stroke-width="3" stroke-linecap="round"/>
<path d="M807.00,629.45l4,7.5h-8z" fill="#EA632E"/>
<line x1="794.5" y1="659.5" x2="819.5" y2="659.5" stroke="#000" stroke-width="3" stroke-linecap="round"/>
<path d="M807.50,655.00l4.5,4.5l-4.5,4.5l-4.5,-4.5z" fill="#000"/>
<text x="823.7" y="638.2" font-size="16" text-anchor="start" font-weight="normal" fill="#000" textLength="111.3" lengthAdjust="spacingAndGlyphs">Gold/$US [LHS]</text>
<text x="823.3" y="663.8" font-size="16" text-anchor="start" font-weight="normal" fill="#000" textLength="216.4" lengthAdjust="spacingAndGlyphs">WTI 1st Oil Future, $US [RHS]</text>
<text x="853.7" y="731.9" font-size="16" text-anchor="start" font-weight="normal" fill="#000" textLength="228.2" lengthAdjust="spacingAndGlyphs">Source: BetaShares, Bloomberg</text>
</svg></body></html>
